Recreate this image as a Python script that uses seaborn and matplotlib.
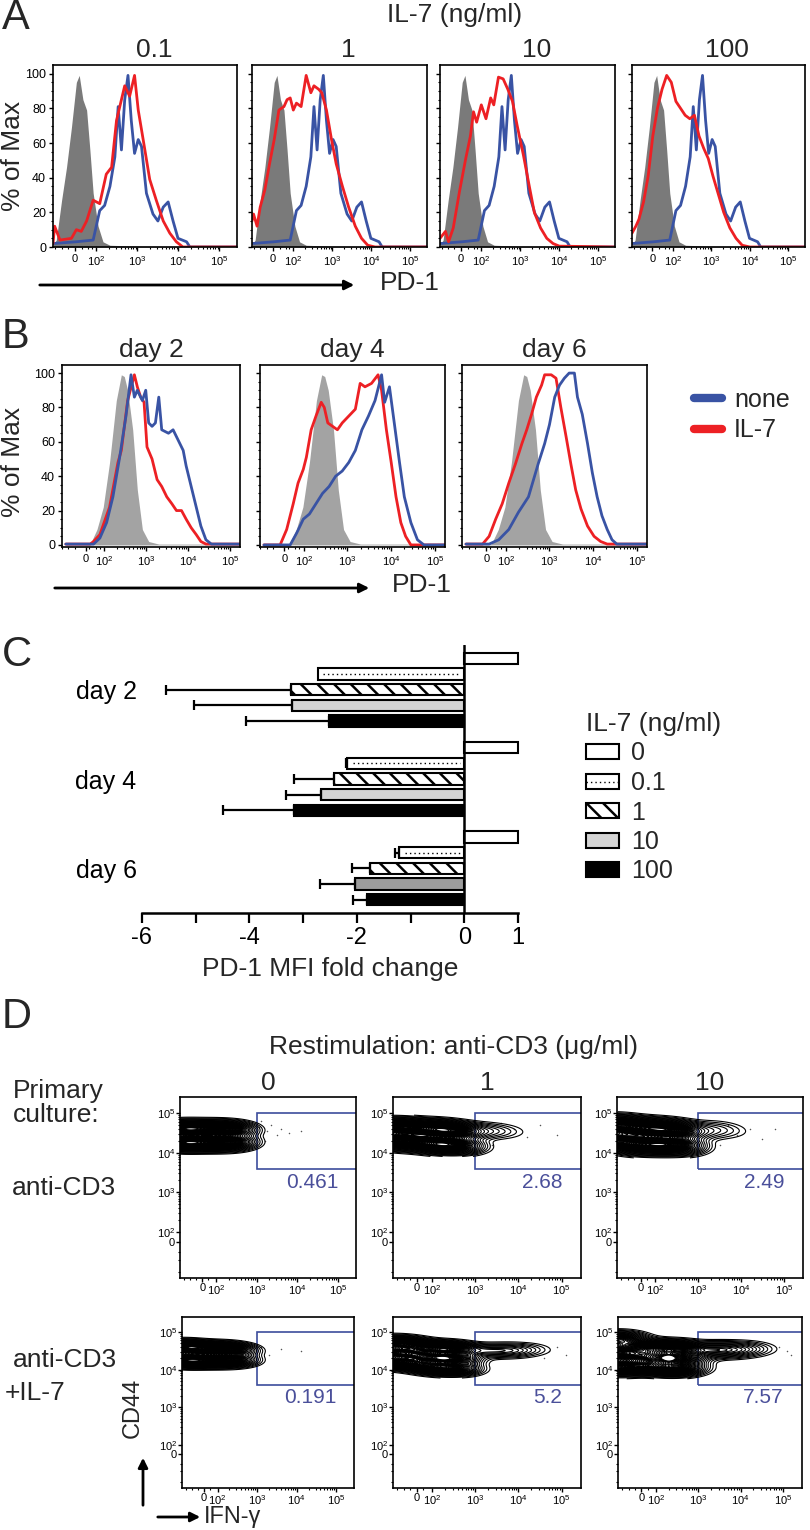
import numpy as np
import pandas as pd
import matplotlib
matplotlib.use("Agg")
import matplotlib.pyplot as plt
from matplotlib.patches import Patch, Rectangle, FancyArrowPatch
from matplotlib.lines import Line2D
import seaborn as sns

#---------- A - PD-1 histograms vs IL-7 dose (x in display decades: 2 = 10^2 ...) ----------
a_doses = ["0.1", "1", "10", "100"]

a_iso_x = [0.94, 1.02, 1.15, 1.27, 1.39, 1.51, 1.58, 1.67, 1.76, 1.84, 1.92, 2.04, 2.16, 2.33, 3.0, 5.43]
a_iso_y = [1, 4, 27, 46, 69, 95, 99, 85, 79, 56, 31, 12, 3, 1, 0.5, 0]

a_none_x = [0.94, 1.5, 1.92, 2.08, 2.20, 2.33, 2.45, 2.53, 2.61, 2.69, 2.77, 2.85, 2.93, 3.02,
            3.10, 3.22, 3.38, 3.50, 3.63, 3.75, 3.87, 3.99, 4.20, 4.28, 5.43]
a_none_y = [2, 3, 4, 21, 24, 35, 52, 81, 56, 85, 99, 73, 54, 62,
            58, 31, 19, 15, 23, 26, 15, 5, 3, 0, 0]

a_il7_01_x = [0.94, 0.98, 1.11, 1.39, 1.51, 1.63, 1.76, 1.92, 2.08, 2.24, 2.37, 2.49, 2.69, 2.81,
              2.93, 3.02, 3.14, 3.30, 3.46, 3.63, 3.79, 3.95, 4.11, 5.43]
a_il7_01_y = [2, 12, 4, 5, 10, 9, 15, 27, 25, 42, 46, 73, 93, 87,
              99, 79, 62, 39, 27, 15, 8, 3, 0, 0]
a_il7_1_x = [0.94, 0.98, 1.07, 1.15, 1.27, 1.39, 1.51, 1.63, 1.76, 1.84, 1.92, 2.0, 2.08, 2.20, 2.33,
             2.45, 2.53, 2.65, 2.73, 2.85, 2.98, 3.10, 3.26, 3.42, 3.59, 3.75, 3.91, 4.1, 5.43]
a_il7_1_y = [15, 19, 12, 23, 33, 48, 62, 79, 81, 85, 86, 79, 83, 81, 99,
             89, 93, 91, 89, 79, 62, 48, 35, 23, 12, 5, 1, 0, 0]
a_il7_10_x = [0.94, 1.08, 1.16, 1.28, 1.44, 1.60, 1.72, 1.80, 1.88, 2.0, 2.12, 2.24, 2.32, 2.44,
              2.56, 2.68, 2.80, 2.92, 3.08, 3.24, 3.36, 3.52, 3.68, 3.84, 4.0, 5.43]
a_il7_10_y = [5, 9, 3, 11, 32, 51, 64, 78, 72, 82, 74, 86, 82, 98,
              97, 91, 84, 70, 53, 34, 20, 11, 5, 2, 0.5, 0]
a_il7_100_x = [0.94, 1.04, 1.12, 1.24, 1.36, 1.48, 1.60, 1.72, 1.84, 1.96, 2.08, 2.20, 2.32, 2.44,
               2.56, 2.68, 2.80, 2.92, 3.04, 3.16, 3.32, 3.48, 3.64, 3.80, 4.0, 5.43]
a_il7_100_y = [8, 12, 16, 26, 41, 64, 80, 91, 99, 95, 84, 80, 76, 74,
               76, 64, 57, 51, 41, 32, 20, 11, 5, 1, 0, 0]

#---------- B - PD-1 histograms over time ----------
b_days = ["day 2", "day 4", "day 6"]

b_iso_x = [1.09, 1.67, 1.83, 1.98, 2.13, 2.29, 2.41, 2.48, 2.56, 2.68, 2.79, 2.91, 3.06, 3.3, 5.23]
b_iso_y = [0.5, 0.5, 9, 22, 48, 84, 99, 98, 90, 67, 32, 9, 2, 0.5, 0.5]

b_none_d2_x = [1.09, 1.75, 1.90, 2.06, 2.21, 2.37, 2.52, 2.64, 2.72, 2.79, 2.91, 2.99, 3.06, 3.14,
               3.22, 3.30, 3.37, 3.53, 3.64, 3.76, 3.88, 3.95, 4.07, 4.19, 4.30, 4.42, 4.55, 5.23]
b_none_d2_y = [0.5, 0.5, 4, 13, 28, 51, 75, 99, 86, 90, 84, 90, 71, 69,
               71, 86, 67, 65, 67, 61, 55, 46, 34, 22, 11, 3, 0.5, 0.5]
b_il7_d2_x = [1.09, 1.67, 1.75, 1.90, 2.13, 2.33, 2.41, 2.56, 2.72, 2.79, 2.87, 2.95, 3.02, 3.14,
              3.26, 3.37, 3.49, 3.61, 3.72, 3.84, 3.95, 4.07, 4.19, 4.30, 4.42, 5.23]
b_il7_d2_y = [0.5, 0.5, 2, 6, 22, 48, 55, 84, 99, 92, 86, 83, 57, 50,
              38, 34, 28, 24, 20, 20, 15, 10, 6, 2, 0.5, 0.5]

b_none_d4_x = [1.09, 1.69, 1.84, 1.99, 2.13, 2.28, 2.43, 2.58, 2.73, 2.88, 3.03, 3.18, 3.33,
               3.48, 3.63, 3.78, 3.85, 3.96, 4.07, 4.19, 4.30, 4.45, 4.60, 4.75, 5.23]
b_none_d4_y = [0, 0, 7, 15, 18, 24, 30, 34, 40, 43, 48, 55, 67,
               75, 84, 99, 83, 92, 71, 48, 28, 13, 3, 0, 0]
b_il7_d4_x = [1.09, 1.46, 1.61, 1.76, 1.87, 1.99, 2.06, 2.17, 2.28, 2.40, 2.47, 2.55, 2.66, 2.77,
              2.88, 3.03, 3.18, 3.29, 3.40, 3.55, 3.70, 3.78, 3.89, 4.0, 4.11, 4.22, 4.33, 4.45, 5.23]
b_il7_d4_y = [0, 0, 9, 24, 36, 44, 51, 67, 75, 83, 80, 71, 69, 67,
              71, 75, 79, 94, 92, 94, 99, 90, 67, 48, 28, 13, 5, 0, 0]

b_none_d6_x = [1.09, 1.62, 1.84, 2.07, 2.29, 2.52, 2.74, 2.89, 3.0, 3.12, 3.23, 3.34, 3.45, 3.57,
               3.64, 3.75, 3.87, 3.98, 4.09, 4.20, 4.32, 4.43, 4.54, 5.23]
b_none_d6_y = [0.5, 0.5, 3, 9, 19, 28, 47, 59, 70, 86, 93, 97, 100, 100,
               86, 76, 59, 42, 28, 17, 9, 3, 0.5, 0.5]
b_il7_d6_x = [1.09, 1.47, 1.62, 1.77, 1.92, 2.07, 2.22, 2.37, 2.48, 2.59, 2.70, 2.82, 2.89, 3.04,
              3.15, 3.26, 3.38, 3.49, 3.60, 3.72, 3.87, 4.02, 4.17, 4.32, 5.23]
b_il7_d6_y = [0.5, 0.5, 5, 15, 24, 36, 47, 59, 67, 76, 86, 93, 99, 99,
              97, 80, 63, 47, 32, 21, 11, 5, 2, 0.5, 0.5]

#---------- C - PD-1 MFI fold change ----------
c_days = ["day 2", "day 4", "day 6"]
c_doses = ["0", "0.1", "1", "10", "100"]
fold_0 = [1.0, 1.0, 1.0]
fold_01 = [-2.73, -2.18, -1.21]
fold_1 = [-3.22, -2.43, -1.76]
fold_10 = [-3.20, -2.66, -2.04]
fold_100 = [-2.52, -3.17, -1.81]
err_0 = [0, 0, 0]
err_01 = [0, 0.03, 0.08]
err_1 = [2.34, 0.74, 0.33]
err_10 = [1.83, 0.65, 0.65]
err_100 = [1.54, 1.33, 0.26]

#---------- D - CD44 x IFN-g contour plots ----------
d_restim = ["0", "1", "10"]
pct_cd3 = ["0.461", "2.68", "2.49"]
pct_il7 = ["0.191", "5.2", "7.57"]
gate_x0, gate_y0, gate_y1 = 3.0, 3.6, 5.0

# population anchors (x, y in decades) with relative weights
cd3_0_x = [1.12, 1.12, 1.45, 1.45, 1.8, 1.8, 2.15, 2.15, 2.45, 2.45]
cd3_0_y = [4.25, 4.6, 4.25, 4.6, 4.25, 4.6, 4.25, 4.6, 4.27, 4.57]
cd3_0_w = [3, 3, 2, 2, 2, 2, 2, 2, 2, 2]
cd3_1_x = [1.12, 1.12, 1.45, 1.45, 1.8, 1.8, 2.15, 2.15, 2.45, 2.45, 3.1, 3.4, 3.7]
cd3_1_y = [4.3, 4.65, 4.3, 4.65, 4.25, 4.6, 4.2, 4.6, 4.2, 4.55, 4.55, 4.55, 4.55]
cd3_1_w = [3, 3, 1.5, 1.5, 1.5, 1.5, 2, 2, 3.5, 3.5, 0.35, 0.2, 0.1]
cd3_10_x = [1.12, 1.12, 1.45, 1.45, 1.8, 1.8, 2.15, 2.15, 2.5, 2.5, 3.15, 3.45, 3.75]
cd3_10_y = [4.3, 4.7, 4.2, 4.65, 4.2, 4.6, 4.2, 4.6, 4.2, 4.55, 4.55, 4.6, 4.55]
cd3_10_w = [3, 3, 2, 2, 2.5, 2.5, 2.5, 2.5, 3, 3, 0.35, 0.2, 0.1]
il7_0_x = [1.12, 1.12, 1.45, 1.45, 1.8, 1.8, 2.15, 2.15, 2.45, 2.45]
il7_0_y = [4.25, 4.6, 4.25, 4.58, 4.25, 4.55, 4.25, 4.55, 4.27, 4.52]
il7_0_w = [3, 3, 2, 2, 2, 2, 2, 2, 2, 2]
il7_1_x = [1.12, 1.12, 1.12, 1.45, 1.45, 1.45, 1.8, 1.8, 1.8, 2.15, 2.15, 2.15, 2.5, 2.5, 2.5,
           3.2, 3.6, 3.9, 4.3]
il7_1_y = [4.2, 4.45, 4.7, 4.2, 4.45, 4.7, 4.1, 4.35, 4.6, 4.05, 4.3, 4.55, 4.05, 4.3, 4.55,
           4.5, 4.5, 4.52, 4.55]
il7_1_w = [2, 2, 2, 1, 1, 1, 1.3, 1.3, 1.3, 1.7, 1.7, 1.7, 2.3, 2.3, 2.3,
           0.6, 0.4, 0.45, 0.15]
il7_10_x = [1.12, 1.12, 1.12, 1.45, 1.45, 1.45, 1.8, 1.8, 1.8, 2.15, 2.15, 2.15, 2.5, 2.5, 2.5,
            3.2, 3.45, 3.75, 4.0, 4.35]
il7_10_y = [4.05, 4.45, 4.8, 4.1, 4.35, 4.6, 4.1, 4.35, 4.6, 4.05, 4.3, 4.55, 4.05, 4.3, 4.55,
            4.5, 4.55, 4.5, 4.55, 4.55]
il7_10_w = [2, 2, 2, 1, 1, 1, 1, 1, 1, 1.3, 1.3, 1.3, 2.3, 2.3, 2.3,
            0.6, 0.5, 0.4, 0.4, 0.15]

# sparse single events inside the gates
cd3_0_dots = [(3.1, 4.8), (3.25, 4.55), (3.35, 4.7), (3.5, 4.45), (3.2, 4.3), (3.6, 4.6), (3.8, 4.5), (4.1, 4.55), (3.05, 4.65)]
cd3_1_dots = [(3.6, 4.75), (3.9, 4.6), (4.2, 4.4), (4.5, 4.7), (4.9, 4.45), (3.4, 4.2)]
cd3_10_dots = [(3.7, 4.7), (3.9, 4.45), (4.2, 4.6), (4.5, 4.35), (4.8, 4.6), (3.5, 4.2)]
il7_0_dots = [(3.1, 4.6), (3.3, 4.4), (3.6, 4.55), (4.1, 4.5)]
il7_1_dots = [(4.7, 4.5), (4.9, 4.6), (5.1, 4.4), (4.6, 4.3)]
il7_10_dots = [(4.9, 4.6), (5.1, 4.5), (5.2, 4.4)]

#---------- Style ----------
sns.set_theme(style="ticks")
plt.rcParams["font.family"] = ["Liberation Sans", "DejaVu Sans"]
plt.rcParams["mathtext.fontset"] = "custom"
plt.rcParams["mathtext.rm"] = "Liberation Sans"
plt.rcParams["axes.edgecolor"] = "black"
plt.rcParams["xtick.color"] = "black"
plt.rcParams["ytick.color"] = "black"
plt.rcParams["hatch.linewidth"] = 1.8

W, H = 810, 1530
BLUE = "#3953a4"
RED = "#ed2024"
fig = plt.figure(figsize=(W / 100, H / 100), dpi=100)


def box(x0, y0, x1, y1):
    return fig.add_axes([x0 / W, 1 - y1 / H, (x1 - x0) / W, (y1 - y0) / H])


def fx(x):
    return x / W


def fy(y):
    return 1 - y / H


dec_labels = ["0", "$10^2$", "$10^3$", "$10^4$", "$10^5$"]
log_minor = [np.log10(m) + d for d in (2, 3, 4) for m in range(2, 10)]


def style_hist(ax, zero, xlim, ylim, ylabels):
    ax.set_xlim(*xlim)
    ax.set_ylim(*ylim)
    ax.set_xticks([zero, 2, 3, 4, 5])
    ax.set_xticklabels(dec_labels, fontsize=8)
    ax.set_xticks(log_minor + [1.0, 1.15, 1.3, 1.65, 1.8, 1.9], minor=True)
    ax.set_yticks(range(0, 101, 20))
    ax.set_yticks(range(0, 101, 5), minor=True)
    if ylabels:
        ax.set_yticklabels([str(v) for v in range(0, 101, 20)], fontsize=9)
    else:
        ax.set_yticklabels([])
    ax.tick_params(which="major", length=3, width=1, direction="out", pad=2)
    ax.tick_params(which="minor", length=1.5, width=0.8, direction="out")
    for s in ax.spines.values():
        s.set_visible(True)
        s.set_linewidth(1.2)
    ax.set_xlabel("")
    ax.set_ylabel("")


def arrow(p0, p1):
    fig.add_artist(FancyArrowPatch((fx(p0[0]), fy(p0[1])), (fx(p1[0]), fy(p1[1])),
                                   transform=fig.transFigure, arrowstyle="-|>",
                                   mutation_scale=14, lw=2, color="black"))


#---------- Panel A ----------
a_boxes = [(53, 65, 237, 247), (252, 65, 427, 247), (440, 65, 615, 247), (632, 65, 805, 247)]
a_il7 = [(a_il7_01_x, a_il7_01_y), (a_il7_1_x, a_il7_1_y),
         (a_il7_10_x, a_il7_10_y), (a_il7_100_x, a_il7_100_y)]
for i, (bx, (rx, ry)) in enumerate(zip(a_boxes, a_il7)):
    ax = box(*bx)
    ax.fill_between(a_iso_x, a_iso_y, color="#7a7a7a", lw=0)
    sns.lineplot(x=a_none_x, y=a_none_y, ax=ax, color=BLUE, linewidth=2.0, estimator=None, sort=False)
    sns.lineplot(x=rx, y=ry, ax=ax, color=RED, linewidth=2.0, estimator=None, sort=False)
    style_hist(ax, 1.47, (0.94, 5.43), (0, 105), i == 0)
    ax.set_title(a_doses[i], fontsize=19, pad=6, x=0.55)

fig.text(fx(455), fy(15), "IL-7 (ng/ml)", fontsize=19, ha="center", va="center")
fig.text(fx(13), fy(156), "% of Max", fontsize=19, rotation=90, ha="center", va="center")
arrow((37, 285), (357, 285))
fig.text(fx(410), fy(283), "PD-1", fontsize=19, ha="center", va="center")
fig.text(fx(2), fy(18), "A", fontsize=30, ha="left", va="center")

#---------- Panel B ----------
b_boxes = [(62, 365, 240, 547), (260, 365, 445, 547), (462, 365, 647, 547)]
b_none = [(b_none_d2_x, b_none_d2_y), (b_none_d4_x, b_none_d4_y), (b_none_d6_x, b_none_d6_y)]
b_il7 = [(b_il7_d2_x, b_il7_d2_y), (b_il7_d4_x, b_il7_d4_y), (b_il7_d6_x, b_il7_d6_y)]
for i, bx in enumerate(b_boxes):
    ax = box(*bx)
    ax.fill_between(b_iso_x, b_iso_y, color="#a3a3a3", lw=0)
    sns.lineplot(x=b_il7[i][0], y=b_il7[i][1], ax=ax, color=RED, linewidth=2.0, estimator=None, sort=False)
    sns.lineplot(x=b_none[i][0], y=b_none[i][1], ax=ax, color=BLUE, linewidth=2.0, estimator=None, sort=False)
    style_hist(ax, 1.56, (1.09, 5.23), (-1.2, 104.7), i == 0)
    ax.set_title(b_days[i], fontsize=19, pad=6)

fig.text(fx(13), fy(462), "% of Max", fontsize=19, rotation=90, ha="center", va="center")
arrow((52, 588), (372, 588))
fig.text(fx(422), fy(585), "PD-1", fontsize=19, ha="center", va="center")
fig.text(fx(2), fy(337), "B", fontsize=30, ha="left", va="center")
fig.legend([Line2D([], [], color=BLUE, lw=6), Line2D([], [], color=RED, lw=6)], ["none", "IL-7"],
           loc="upper left", bbox_to_anchor=(fx(694), fy(388)), frameon=False, fontsize=18,
           handlelength=1.1, handletextpad=0.5, labelspacing=0.25, borderpad=0, borderaxespad=0)

#---------- Panel C ----------
c_df = pd.DataFrame({
    "day": c_days * 5,
    "dose": np.repeat(c_doses, 3),
    "fold": fold_0 + fold_01 + fold_1 + fold_10 + fold_100,
    "err": err_0 + err_01 + err_1 + err_10 + err_100,
})
dose_colors = {"0": "white", "0.1": "white", "1": "white", "10": "#d4d4d4", "100": "black"}

axc = box(139.3, 645, 520.7, 913)
sns.barplot(data=c_df, x="fold", y="day", hue="dose", order=c_days, hue_order=c_doses,
            orient="h", palette=dose_colors, saturation=1, edgecolor="black", linewidth=1.5,
            errorbar=None, width=0.877, gap=0.27, legend=False, ax=axc)

bar_conts = list(axc.containers)
for k, cont in enumerate(bar_conts):
    dose = c_doses[k]
    sub = c_df[c_df["dose"] == dose].set_index("day")
    for p in cont.patches:
        yc = p.get_y() + p.get_height() / 2
        day = c_days[int(round(yc))]
        xe = p.get_x() + p.get_width()
        e = sub.loc[day, "err"]
        if dose == "1":
            p.set_hatch("\\\\")
        if dose == "10" and day == "day 6":
            p.set_facecolor("#9c9c9c")
        if dose == "0.1":
            axc.plot([xe + 0.1, -0.08], [yc, yc], color="black", lw=1.0, ls=(0, (1, 2.2)), zorder=3)
        if e > 0:
            axc.errorbar(xe, yc, xerr=[[e], [0]], fmt="none", ecolor="black", elinewidth=1.6,
                         capsize=3.5, capthick=1.6, zorder=1)

axc.axvline(0, color="black", lw=1.8, zorder=4)
axc.set_xlim(-6.05, 1.05)
axc.set_ylim(2.5, -0.5)
for s in ["left", "right", "top"]:
    axc.spines[s].set_visible(False)
axc.spines["bottom"].set_linewidth(1.8)
axc.spines["bottom"].set_bounds(-6, 1)
axc.set_xticks(range(-6, 2))
axc.set_xticklabels(["-6", "", "-4", "", "-2", "", "0", "1"], fontsize=17)
axc.tick_params(axis="x", length=7, width=1.6, pad=3)
axc.tick_params(axis="y", length=0, labelsize=18, pad=2)
axc.set_ylabel("")
axc.set_xlabel("PD-1 MFI fold change", fontsize=19, labelpad=6)
fig.text(fx(2), fy(655), "C", fontsize=30, ha="left", va="center")

dotted = Line2D([], [], color="black", lw=1.0, ls=(0, (1, 2.2)))
c_handles = [Patch(facecolor="white", edgecolor="black", lw=1.5),
             (Patch(facecolor="white", edgecolor="black", lw=1.5), dotted),
             Patch(facecolor="white", edgecolor="black", lw=1.5, hatch="\\\\"),
             Patch(facecolor="#d4d4d4", edgecolor="black", lw=1.5),
             Patch(facecolor="black", edgecolor="black", lw=1.5)]
fig.legend(c_handles, c_doses, title="IL-7 (ng/ml)", loc="upper left",
           bbox_to_anchor=(fx(586), fy(712)), frameon=False, fontsize=18, title_fontsize=19,
           handlelength=1.3, handleheight=0.55, labelspacing=0.22, handletextpad=0.5,
           alignment="left", borderpad=0, borderaxespad=0)

#---------- Panel D ----------
d_boxes = [[(180, 1097, 356, 1278), (393, 1097, 581, 1278), (617, 1097, 803, 1278)],
           [(182, 1317, 354, 1488), (393, 1317, 581, 1488), (618, 1317, 802, 1488)]]
d_pops = [[(cd3_0_x, cd3_0_y, cd3_0_w, cd3_0_dots), (cd3_1_x, cd3_1_y, cd3_1_w, cd3_1_dots),
           (cd3_10_x, cd3_10_y, cd3_10_w, cd3_10_dots)],
          [(il7_0_x, il7_0_y, il7_0_w, il7_0_dots), (il7_1_x, il7_1_y, il7_1_w, il7_1_dots),
           (il7_10_x, il7_10_y, il7_10_w, il7_10_dots)]]
d_pct = [pct_cd3, pct_il7]
d_bw = [[0.85, 0.85, 0.85], [0.85, 0.72, 0.72]]
line_levels = list(np.r_[[0.006, 0.012, 0.02, 0.03, 0.042, 0.056, 0.072, 0.09, 0.11, 0.13, 0.155],
                         np.linspace(0.18, 0.97, 40)])
GATE = "#3c4d9c"

for r in range(2):
    for c in range(3):
        ax = box(*d_boxes[r][c])
        px, py, pw, dots = d_pops[r][c]
        sns.kdeplot(x=px, y=py, weights=pw, ax=ax, bw_adjust=d_bw[r][c], gridsize=180, cut=3,
                    levels=line_levels, color="black", linewidths=0.8)
        ax.scatter([d[0] for d in dots], [d[1] for d in dots], s=1.2, color="#555555", lw=0)
        ax.add_patch(Rectangle((gate_x0, gate_y0), 3, gate_y1 - gate_y0, fill=False,
                               edgecolor=GATE, lw=1.2))
        ax.text(0.9, 3.25, d_pct[r][c], transform=ax.get_yaxis_transform(), ha="right",
                va="center", fontsize=15, color="#4a4f9a")
        ax.set_xlim(1.1, 5.45)
        ax.set_ylim(0.85, 5.4)
        ax.set_xticks([1.65, 2, 3, 4, 5])
        ax.set_xticklabels(dec_labels, fontsize=8)
        ax.set_yticks([1.75, 2, 3, 4, 5])
        ax.set_yticklabels(dec_labels, fontsize=8)
        ax.set_xticks(log_minor + [1.2, 1.35, 1.5, 1.8], minor=True)
        ax.set_yticks(log_minor + [1.0, 1.3, 1.5], minor=True)
        ax.tick_params(which="major", length=3, width=1, pad=0.5)
        ax.tick_params(which="minor", length=1.5, width=0.8)
        for s in ax.spines.values():
            s.set_visible(True)
            s.set_linewidth(1.2)
        ax.set_xlabel("")
        ax.set_ylabel("")
        if r == 0:
            ax.set_title(d_restim[c], fontsize=19, pad=5)

fig.text(fx(454), fy(1047), "Restimulation: anti-CD3 (\u03bcg/ml)", fontsize=19, ha="center", va="center")
fig.text(fx(13), fy(1103), "Primary\nculture:", fontsize=19, ha="left", va="center", linespacing=1.05)
fig.text(fx(12), fy(1188), "anti-CD3", fontsize=19, ha="left", va="center")
fig.text(fx(13), fy(1360), "anti-CD3", fontsize=19, ha="left", va="center")
fig.text(fx(5), fy(1393), "+IL-7", fontsize=19, ha="left", va="center")
fig.text(fx(133), fy(1408), "CD44", fontsize=17, rotation=90, ha="center", va="center")
arrow((143, 1508), (143, 1455))
arrow((155, 1517), (203, 1517))
fig.text(fx(204), fy(1517), "IFN-\u03b3", fontsize=17, ha="left", va="center")
fig.text(fx(2), fy(1017), "D", fontsize=30, ha="left", va="center")

fig.savefig("out.png", dpi=100)
